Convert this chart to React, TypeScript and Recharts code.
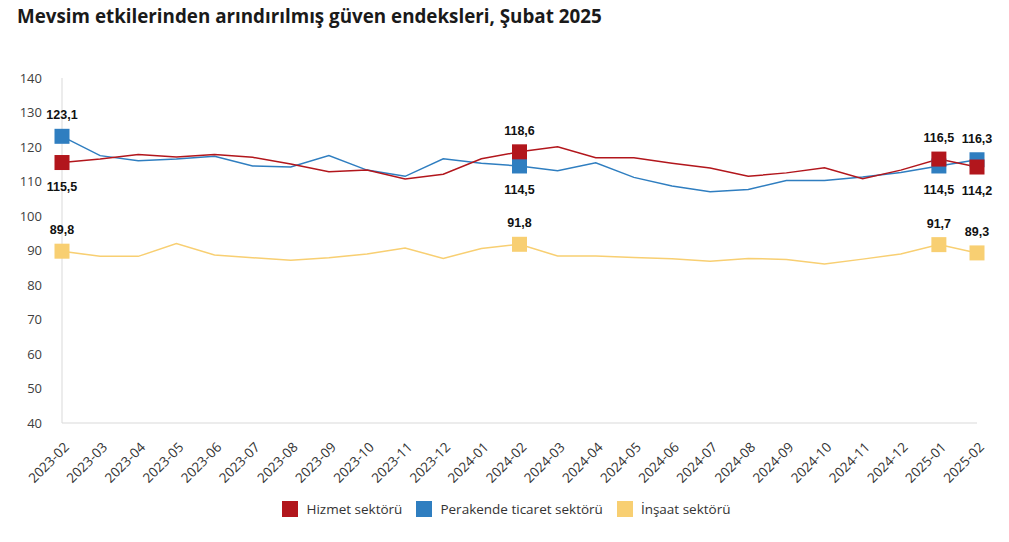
import React from "react";
import { LineChart, Line, XAxis, YAxis } from "recharts";

const months = [
  "2023-02", "2023-03", "2023-04", "2023-05", "2023-06", "2023-07", "2023-08",
  "2023-09", "2023-10", "2023-11", "2023-12", "2024-01", "2024-02", "2024-03",
  "2024-04", "2024-05", "2024-06", "2024-07", "2024-08", "2024-09", "2024-10",
  "2024-11", "2024-12", "2025-01", "2025-02",
];

const hizmet = [
  115.5, 116.5, 117.8, 117.1, 117.8, 117.0, 115.1, 112.8, 113.3, 110.7, 112.1,
  116.6, 118.6, 120.1, 116.9, 116.9, 115.3, 113.9, 111.5, 112.5, 114.0, 110.8,
  113.3, 116.5, 114.2,
];

const perakende = [
  123.1, 117.5, 116.0, 116.5, 117.3, 114.5, 114.2, 117.5, 113.3, 111.5, 116.6,
  115.3, 114.5, 113.1, 115.4, 111.2, 108.7, 107.0, 107.7, 110.3, 110.3, 111.3,
  112.6, 114.5, 116.3,
];

const insaat = [
  89.8, 88.3, 88.3, 92.0, 88.7, 87.9, 87.2, 87.9, 89.0, 90.7, 87.7, 90.6, 91.8,
  88.4, 88.4, 88.0, 87.6, 86.9, 87.7, 87.4, 86.1, 87.5, 89.0, 91.7, 89.3,
];

const yTicks = [40, 50, 60, 70, 80, 90, 100, 110, 120, 130, 140];

// months that get a square marker and a value label
const markedMonths = ["2023-02", "2024-02", "2025-01", "2025-02"];

const RED = "#B2161C";
const BLUE = "#2F7EC0";
const YELLOW = "#F8CF72";

const data = months.map((m, i) => ({
  month: m,
  hizmet: hizmet[i],
  perakende: perakende[i],
  insaat: insaat[i],
}));

const fmt = (v: number) => v.toFixed(1).replace(".", ",");

// eslint-disable-next-line @typescript-eslint/no-explicit-any
const makeDot = (color: string, other: number[] | null) => (props: any) => {
  const { cx, cy, index, value, key } = props;
  if (!markedMonths.includes(months[index])) return <g key={key} />;
  const v = Array.isArray(value) ? value[1] : value;
  const below = other ? v < other[index] : false;
  const s = 15;
  return (
    <g key={key}>
      <rect x={cx - s / 2} y={cy - s / 2} width={s} height={s} fill={color} />
      <text
        x={cx}
        y={below ? cy + 28 : cy - 17}
        textAnchor="middle"
        fontFamily="'Liberation Sans', Arial, sans-serif"
        fontWeight="bold"
        fontSize={12.5}
        fill="#111"
      >
        {fmt(v)}
      </text>
    </g>
  );
};

// eslint-disable-next-line @typescript-eslint/no-explicit-any
const XTick = ({ x, y, payload }: any) => (
  <g transform={`translate(${x + 8},${y + 17})`}>
    <text
      textAnchor="end"
      transform="rotate(-45)"
      fontSize={13.5}
      fill="#333"
      fontFamily="'Open Sans', sans-serif"
    >
      {payload.value}
    </text>
  </g>
);

const legendItems = [
  { label: "Hizmet sektörü", color: RED },
  { label: "Perakende ticaret sektörü", color: BLUE },
  { label: "İnşaat sektörü", color: YELLOW },
];

export default function App() {
  return (
    <div
      style={{
        position: "absolute",
        left: 0,
        top: 0,
        width: 1009,
        height: 542,
        background: "#fff",
        fontFamily: "'Open Sans', sans-serif",
      }}
    >
      <div
        style={{
          position: "absolute",
          left: 17,
          top: 3,
          fontSize: 18.8,
          fontWeight: 700,
          color: "#1a1a1a",
          whiteSpace: "nowrap",
        }}
      >
        Mevsim etkilerinden arındırılmış güven endeksleri, Şubat 2025
      </div>

      <div style={{ position: "absolute", left: 0, top: 0 }}>
        <LineChart
          width={1009}
          height={542}
          data={data}
          margin={{ top: 78, right: 32, left: 2, bottom: 59 }}
        >
          <XAxis
            dataKey="month"
            interval={0}
            height={60}
            tick={<XTick />}
            tickLine={false}
            axisLine={{ stroke: "#d9d9d9" }}
          />
          <YAxis
            domain={[40, 140]}
            ticks={yTicks}
            width={60}
            interval={0}
            tickLine={false}
            axisLine={{ stroke: "#d9d9d9" }}
            tickMargin={14}
            tick={{ fontSize: 13, fill: "#404040", fontFamily: "'Open Sans', sans-serif" }}
          />
          <Line
            dataKey="insaat"
            stroke={YELLOW}
            strokeWidth={1.5}
            dot={makeDot(YELLOW, null)}
            activeDot={false}
            isAnimationActive={false}
          />
          <Line
            dataKey="perakende"
            stroke={BLUE}
            strokeWidth={1.5}
            dot={makeDot(BLUE, hizmet)}
            activeDot={false}
            isAnimationActive={false}
          />
          <Line
            dataKey="hizmet"
            stroke={RED}
            strokeWidth={1.5}
            dot={makeDot(RED, perakende)}
            activeDot={false}
            isAnimationActive={false}
          />
        </LineChart>
      </div>

      <div
        style={{
          position: "absolute",
          top: 500,
          left: 0,
          width: 1009,
          display: "flex",
          justifyContent: "center",
          alignItems: "center",
          gap: 14,
          fontSize: 13.5,
          color: "#333",
          paddingLeft: 2,
        }}
      >
        {legendItems.map((it) => (
          <span key={it.label} style={{ display: "flex", alignItems: "center", gap: 8 }}>
            <span style={{ width: 16, height: 16, background: it.color, display: "inline-block" }} />
            {it.label}
          </span>
        ))}
      </div>
    </div>
  );
}
